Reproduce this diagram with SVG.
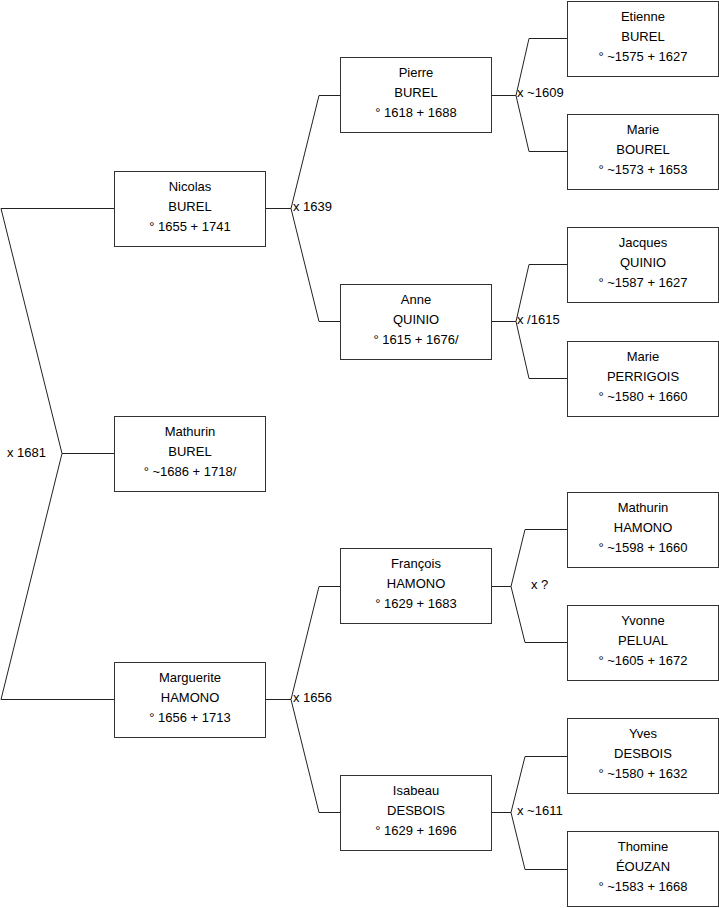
<svg xmlns="http://www.w3.org/2000/svg" width="719" height="908" viewBox="0 0 719 908">
<style>
.box{fill:#fff;stroke:#333;stroke-width:1}
.ln{fill:none;stroke:#222;stroke-width:1}
text{font-family:"Liberation Sans",Arial,sans-serif;font-size:13px;fill:#000}
.c{text-anchor:middle}
</style>
<rect width="719" height="908" fill="#fff"/>
<g id="connectors">
<polyline class="ln" points="114,208.5 1,208.5 62,453.5 1,699.5 114,699.5"/>
<line class="ln" x1="62" y1="453.5" x2="114" y2="453.5"/>
<polyline class="ln" points="265,208.5 291,208.5"/>
<polyline class="ln" points="340,95.5 319,95.5 291,208.5 319,321.5 340,321.5"/>
<polyline class="ln" points="265,699.5 291,699.5"/>
<polyline class="ln" points="340,586.5 319,586.5 291,699.5 319,812.5 340,812.5"/>
<polyline class="ln" points="492,95.5 516,95.5"/>
<polyline class="ln" points="567,38.5 529,38.5 516,95.5 529,151.5 567,151.5"/>
<polyline class="ln" points="492,321.5 516,321.5"/>
<polyline class="ln" points="567,264.5 529,264.5 516,321.5 529,378.5 567,378.5"/>
<polyline class="ln" points="492,586.5 511,586.5"/>
<polyline class="ln" points="567,529.5 525,529.5 511,586.5 525,642.5 567,642.5"/>
<polyline class="ln" points="492,812.5 511,812.5"/>
<polyline class="ln" points="567,756.5 525,756.5 511,812.5 525,869.5 567,869.5"/>
<text x="7" y="457">x 1681</text>
<text x="293" y="211">x 1639</text>
<text x="293" y="702">x 1656</text>
<text x="517" y="97">x ~1609</text>
<text x="517" y="324">x /1615</text>
<text x="531" y="589">x ?</text>
<text x="517" y="815">x ~1611</text>
</g>
<g id="nicolas"><rect class="box" x="114.5" y="171.5" width="151" height="75"/><text class="c" x="190" y="191">Nicolas</text><text class="c" x="190" y="211">BUREL</text><text class="c" x="190" y="231">° 1655 + 1741</text></g>
<g id="mathurin-burel"><rect class="box" x="114.5" y="416.5" width="151" height="75"/><text class="c" x="190" y="436">Mathurin</text><text class="c" x="190" y="456">BUREL</text><text class="c" x="190" y="476">° ~1686 + 1718/</text></g>
<g id="marguerite"><rect class="box" x="114.5" y="662.5" width="151" height="75"/><text class="c" x="190" y="682">Marguerite</text><text class="c" x="190" y="702">HAMONO</text><text class="c" x="190" y="722">° 1656 + 1713</text></g>
<g id="pierre"><rect class="box" x="340.5" y="57.5" width="151" height="75"/><text class="c" x="416" y="77">Pierre</text><text class="c" x="416" y="97">BUREL</text><text class="c" x="416" y="117">° 1618 + 1688</text></g>
<g id="anne"><rect class="box" x="340.5" y="284.5" width="151" height="75"/><text class="c" x="416" y="304">Anne</text><text class="c" x="416" y="324">QUINIO</text><text class="c" x="416" y="344">° 1615 + 1676/</text></g>
<g id="francois"><rect class="box" x="340.5" y="548.5" width="151" height="75"/><text class="c" x="416" y="568">François</text><text class="c" x="416" y="588">HAMONO</text><text class="c" x="416" y="608">° 1629 + 1683</text></g>
<g id="isabeau"><rect class="box" x="340.5" y="775.5" width="151" height="75"/><text class="c" x="416" y="795">Isabeau</text><text class="c" x="416" y="815">DESBOIS</text><text class="c" x="416" y="835">° 1629 + 1696</text></g>
<g id="etienne"><rect class="box" x="567.5" y="1.5" width="151" height="75"/><text class="c" x="643" y="21">Etienne</text><text class="c" x="643" y="41">BUREL</text><text class="c" x="643" y="61">° ~1575 + 1627</text></g>
<g id="marie-bourel"><rect class="box" x="567.5" y="114.5" width="151" height="75"/><text class="c" x="643" y="134">Marie</text><text class="c" x="643" y="154">BOUREL</text><text class="c" x="643" y="174">° ~1573 + 1653</text></g>
<g id="jacques"><rect class="box" x="567.5" y="227.5" width="151" height="75"/><text class="c" x="643" y="247">Jacques</text><text class="c" x="643" y="267">QUINIO</text><text class="c" x="643" y="287">° ~1587 + 1627</text></g>
<g id="marie-perrigois"><rect class="box" x="567.5" y="341.5" width="151" height="75"/><text class="c" x="643" y="361">Marie</text><text class="c" x="643" y="381">PERRIGOIS</text><text class="c" x="643" y="401">° ~1580 + 1660</text></g>
<g id="mathurin-hamono"><rect class="box" x="567.5" y="492.5" width="151" height="75"/><text class="c" x="643" y="512">Mathurin</text><text class="c" x="643" y="532">HAMONO</text><text class="c" x="643" y="552">° ~1598 + 1660</text></g>
<g id="yvonne"><rect class="box" x="567.5" y="605.5" width="151" height="75"/><text class="c" x="643" y="625">Yvonne</text><text class="c" x="643" y="645">PELUAL</text><text class="c" x="643" y="665">° ~1605 + 1672</text></g>
<g id="yves"><rect class="box" x="567.5" y="718.5" width="151" height="75"/><text class="c" x="643" y="738">Yves</text><text class="c" x="643" y="758">DESBOIS</text><text class="c" x="643" y="778">° ~1580 + 1632</text></g>
<g id="thomine"><rect class="box" x="567.5" y="831.5" width="151" height="75"/><text class="c" x="643" y="851">Thomine</text><text class="c" x="643" y="871">ÉOUZAN</text><text class="c" x="643" y="891">° ~1583 + 1668</text></g>
</svg>
